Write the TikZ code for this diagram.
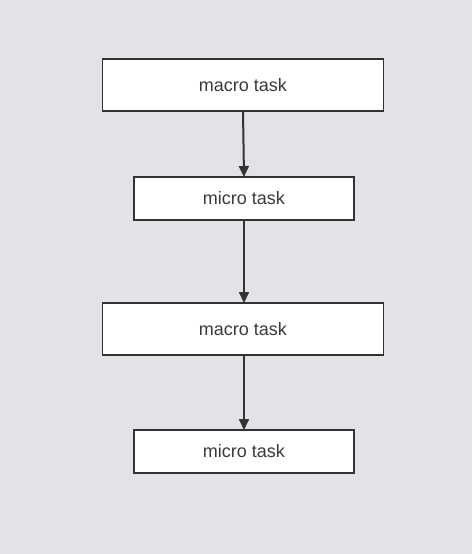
\documentclass[tikz,border=0pt]{standalone}
\usepackage{fontspec}
\setmainfont{Liberation Sans}
\usepackage{tikz}
\usetikzlibrary{positioning,arrows.meta}
\usepackage{xcolor}
\definecolor{bggrey}{HTML}{E2E3E7}
\definecolor{darkline}{HTML}{333333}
\definecolor{textgrey}{HTML}{3A3A3A}

\begin{document}
\begin{tikzpicture}[
    x=1pt, y=1pt,
    node distance=66pt,
    task/.style={rectangle, draw=darkline, line width=1.8pt, fill=white,
                 inner sep=0pt, outer sep=0pt, align=center, text=textgrey,
                 font=\fontsize{18}{21}\selectfont},
    macrobox/.style={task, minimum width=281pt, minimum height=52pt},
    microbox/.style={task, minimum width=220pt, minimum height=43pt},
    arrow/.style={-{Triangle[length=11pt, width=10pt]}, line width=2pt, draw=darkline},
]
  \fill[bggrey] (0,0) rectangle (472,-554);
  \useasboundingbox (0,0) rectangle (472,-554);

  \node[macrobox] (macroone) at (243,-85) {macro task};
  \node[microbox, below=66pt of macroone, xshift=1pt] (microone) {micro task};
  \node[macrobox, below=83pt of microone, xshift=-1pt] (macrotwo) {macro task};
  \node[microbox, below=75pt of macrotwo, xshift=1pt] (microtwo) {micro task};

  \draw[arrow] (macroone.south) -- (microone.north);
  \draw[arrow] (microone.south) -- (microone.south |- macrotwo.north);
  \draw[arrow] (macrotwo.south -| microtwo) -- (microtwo.north);
\end{tikzpicture}
\end{document}
